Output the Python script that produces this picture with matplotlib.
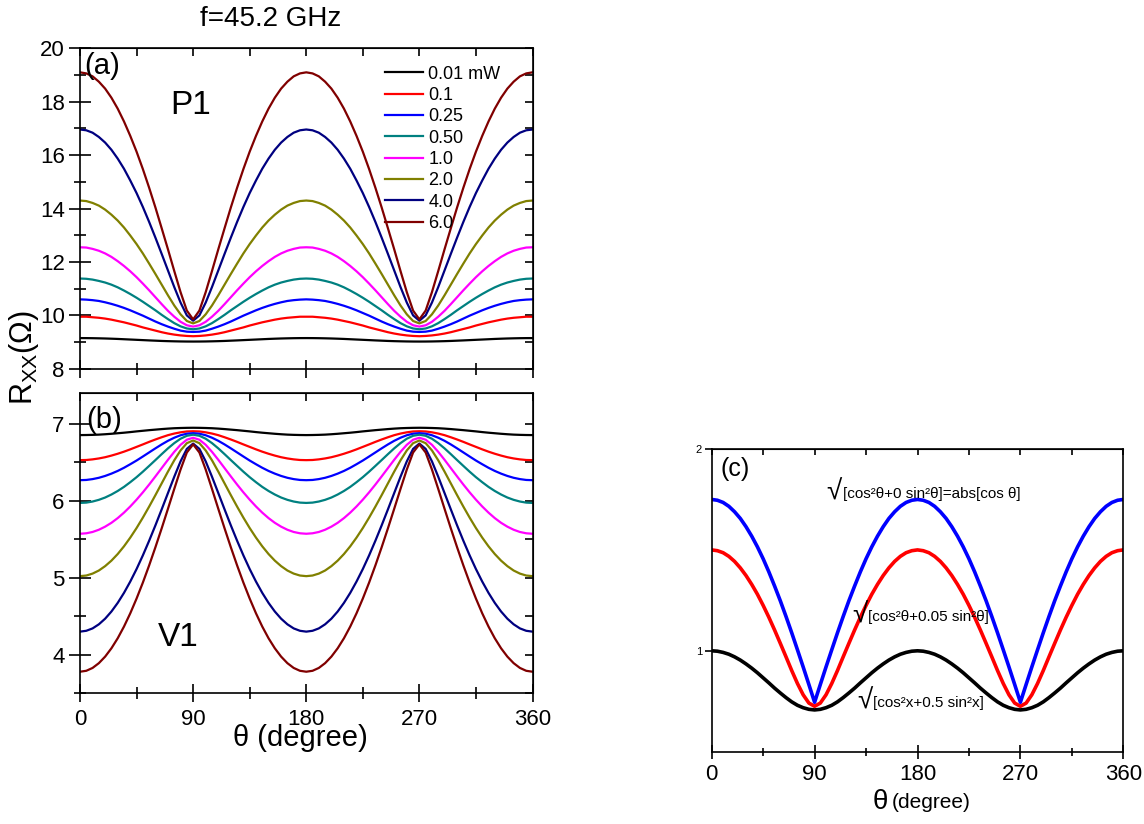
import numpy as np
import matplotlib
matplotlib.use("Agg")
import matplotlib.pyplot as plt

plt.rcParams['font.family'] = ['Liberation Sans', 'DejaVu Sans']
plt.rcParams['mathtext.fontset'] = 'custom'
plt.rcParams['mathtext.rm'] = 'Liberation Sans'
plt.rcParams['mathtext.it'] = 'Liberation Sans:italic'

# angle grid (degree), 5 degree steps
theta = np.arange(0, 361, 5)

power_labels = ['0.01 mW', '0.1', '0.25', '0.50', '1.0', '2.0', '4.0', '6.0']
power_colors = ['#000000', '#FF0000', '#0000FF', '#008080',
                '#FF00FF', '#808000', '#000080', '#800000']

# (a) P1, Rxx (Ohm)
p1_001 = [9.150, 9.149, 9.146, 9.141, 9.135, 9.127, 9.118, 9.107, 9.096, 9.085, 9.074, 9.063, 9.053, 9.043, 9.035, 9.029, 9.024, 9.021, 9.020,
          9.021, 9.024, 9.029, 9.035, 9.043, 9.053, 9.063, 9.074, 9.085, 9.096, 9.107, 9.118, 9.127, 9.135, 9.141, 9.146, 9.149, 9.150,
          9.149, 9.146, 9.141, 9.135, 9.127, 9.118, 9.107, 9.096, 9.085, 9.074, 9.063, 9.053, 9.043, 9.035, 9.029, 9.024, 9.021, 9.020,
          9.021, 9.024, 9.029, 9.035, 9.043, 9.053, 9.063, 9.074, 9.085, 9.096, 9.107, 9.118, 9.127, 9.135, 9.141, 9.146, 9.149, 9.150]
p1_01 = [9.95, 9.95, 9.93, 9.91, 9.88, 9.84, 9.79, 9.74, 9.68, 9.62, 9.55, 9.49, 9.43, 9.37, 9.32, 9.28, 9.25, 9.23, 9.22,
         9.23, 9.25, 9.28, 9.32, 9.37, 9.43, 9.49, 9.55, 9.62, 9.68, 9.74, 9.79, 9.84, 9.88, 9.91, 9.93, 9.95, 9.95,
         9.95, 9.93, 9.91, 9.88, 9.84, 9.79, 9.74, 9.68, 9.62, 9.55, 9.49, 9.43, 9.37, 9.32, 9.28, 9.25, 9.23, 9.22,
         9.23, 9.25, 9.28, 9.32, 9.37, 9.43, 9.49, 9.55, 9.62, 9.68, 9.74, 9.79, 9.84, 9.88, 9.91, 9.93, 9.95, 9.95]
p1_025 = [10.60, 10.59, 10.57, 10.54, 10.49, 10.43, 10.36, 10.28, 10.19, 10.09, 9.99, 9.88, 9.77, 9.67, 9.58, 9.50, 9.43, 9.39, 9.38,
          9.39, 9.43, 9.50, 9.58, 9.67, 9.77, 9.88, 9.99, 10.09, 10.19, 10.28, 10.36, 10.43, 10.49, 10.54, 10.57, 10.59, 10.60,
          10.59, 10.57, 10.54, 10.49, 10.43, 10.36, 10.28, 10.19, 10.09, 9.99, 9.88, 9.77, 9.67, 9.58, 9.50, 9.43, 9.39, 9.38,
          9.39, 9.43, 9.50, 9.58, 9.67, 9.77, 9.88, 9.99, 10.09, 10.19, 10.28, 10.36, 10.43, 10.49, 10.54, 10.57, 10.59, 10.60]
p1_050 = [11.38, 11.37, 11.34, 11.29, 11.23, 11.15, 11.05, 10.93, 10.80, 10.66, 10.51, 10.35, 10.19, 10.02, 9.86, 9.71, 9.59, 9.51, 9.48,
          9.51, 9.59, 9.71, 9.86, 10.02, 10.19, 10.35, 10.51, 10.66, 10.80, 10.93, 11.05, 11.15, 11.23, 11.29, 11.34, 11.37, 11.38,
          11.37, 11.34, 11.29, 11.23, 11.15, 11.05, 10.93, 10.80, 10.66, 10.51, 10.35, 10.19, 10.02, 9.86, 9.71, 9.59, 9.51, 9.48,
          9.51, 9.59, 9.71, 9.86, 10.02, 10.19, 10.35, 10.51, 10.66, 10.80, 10.93, 11.05, 11.15, 11.23, 11.29, 11.34, 11.37, 11.38]
p1_1 = [12.55, 12.54, 12.49, 12.42, 12.32, 12.19, 12.03, 11.85, 11.65, 11.43, 11.19, 10.94, 10.68, 10.42, 10.17, 9.95, 9.76, 9.63, 9.58,
        9.63, 9.76, 9.95, 10.17, 10.42, 10.68, 10.94, 11.19, 11.43, 11.65, 11.85, 12.03, 12.19, 12.32, 12.42, 12.49, 12.54, 12.55,
        12.54, 12.49, 12.42, 12.32, 12.19, 12.03, 11.85, 11.65, 11.43, 11.19, 10.94, 10.68, 10.42, 10.17, 9.95, 9.76, 9.63, 9.58,
        9.63, 9.76, 9.95, 10.17, 10.42, 10.68, 10.94, 11.19, 11.43, 11.65, 11.85, 12.03, 12.19, 12.32, 12.42, 12.49, 12.54, 12.55]
p1_2 = [14.30, 14.28, 14.21, 14.11, 13.96, 13.77, 13.55, 13.29, 12.99, 12.67, 12.32, 11.94, 11.55, 11.15, 10.75, 10.37, 10.04, 9.79, 9.70,
        9.79, 10.04, 10.37, 10.75, 11.15, 11.55, 11.94, 12.32, 12.67, 12.99, 13.29, 13.55, 13.77, 13.96, 14.11, 14.21, 14.28, 14.30,
        14.28, 14.21, 14.11, 13.96, 13.77, 13.55, 13.29, 12.99, 12.67, 12.32, 11.94, 11.55, 11.15, 10.75, 10.37, 10.04, 9.79, 9.70,
        9.79, 10.04, 10.37, 10.75, 11.15, 11.55, 11.94, 12.32, 12.67, 12.99, 13.29, 13.55, 13.77, 13.96, 14.11, 14.21, 14.28, 14.30]
p1_4 = [16.96, 16.93, 16.84, 16.68, 16.47, 16.20, 15.87, 15.49, 15.05, 14.58, 14.06, 13.50, 12.91, 12.30, 11.68, 11.06, 10.48, 10.00, 9.80,
        10.00, 10.48, 11.06, 11.68, 12.30, 12.91, 13.50, 14.06, 14.58, 15.05, 15.49, 15.87, 16.20, 16.47, 16.68, 16.84, 16.93, 16.96,
        16.93, 16.84, 16.68, 16.47, 16.20, 15.87, 15.49, 15.05, 14.58, 14.06, 13.50, 12.91, 12.30, 11.68, 11.06, 10.48, 10.00, 9.80,
        10.00, 10.48, 11.06, 11.68, 12.30, 12.91, 13.50, 14.06, 14.58, 15.05, 15.49, 15.87, 16.20, 16.47, 16.68, 16.84, 16.93, 16.96]
p1_6 = [19.10, 19.06, 18.95, 18.75, 18.49, 18.15, 17.74, 17.26, 16.72, 16.13, 15.48, 14.78, 14.04, 13.26, 12.47, 11.66, 10.87, 10.18, 9.85,
        10.18, 10.87, 11.66, 12.47, 13.26, 14.04, 14.78, 15.48, 16.13, 16.72, 17.26, 17.74, 18.15, 18.49, 18.75, 18.95, 19.06, 19.10,
        19.06, 18.95, 18.75, 18.49, 18.15, 17.74, 17.26, 16.72, 16.13, 15.48, 14.78, 14.04, 13.26, 12.47, 11.66, 10.87, 10.18, 9.85,
        10.18, 10.87, 11.66, 12.47, 13.26, 14.04, 14.78, 15.48, 16.13, 16.72, 17.26, 17.74, 18.15, 18.49, 18.75, 18.95, 19.06, 19.10]

# (b) V1, Rxx (Ohm)
v1_001 = [6.850, 6.851, 6.853, 6.856, 6.861, 6.867, 6.874, 6.881, 6.889, 6.898, 6.906, 6.914, 6.921, 6.928, 6.934, 6.939, 6.942, 6.944, 6.945,
          6.944, 6.942, 6.939, 6.934, 6.928, 6.921, 6.914, 6.906, 6.898, 6.889, 6.881, 6.874, 6.867, 6.861, 6.856, 6.853, 6.851, 6.850,
          6.851, 6.853, 6.856, 6.861, 6.867, 6.874, 6.881, 6.889, 6.898, 6.906, 6.914, 6.921, 6.928, 6.934, 6.939, 6.942, 6.944, 6.945,
          6.944, 6.942, 6.939, 6.934, 6.928, 6.921, 6.914, 6.906, 6.898, 6.889, 6.881, 6.874, 6.867, 6.861, 6.856, 6.853, 6.851, 6.850]
v1_01 = [6.525, 6.527, 6.535, 6.547, 6.563, 6.584, 6.608, 6.635, 6.665, 6.697, 6.729, 6.762, 6.793, 6.822, 6.849, 6.870, 6.886, 6.897, 6.900,
         6.897, 6.886, 6.870, 6.849, 6.822, 6.793, 6.762, 6.729, 6.697, 6.665, 6.635, 6.608, 6.584, 6.563, 6.547, 6.535, 6.527, 6.525,
         6.527, 6.535, 6.547, 6.563, 6.584, 6.608, 6.635, 6.665, 6.697, 6.729, 6.762, 6.793, 6.822, 6.849, 6.870, 6.886, 6.897, 6.900,
         6.897, 6.886, 6.870, 6.849, 6.822, 6.793, 6.762, 6.729, 6.697, 6.665, 6.635, 6.608, 6.584, 6.563, 6.547, 6.535, 6.527, 6.525]
v1_025 = [6.265, 6.268, 6.279, 6.296, 6.320, 6.350, 6.385, 6.426, 6.472, 6.520, 6.572, 6.625, 6.678, 6.729, 6.776, 6.816, 6.848, 6.868, 6.875,
          6.868, 6.848, 6.816, 6.776, 6.729, 6.678, 6.625, 6.572, 6.520, 6.472, 6.426, 6.385, 6.350, 6.320, 6.296, 6.279, 6.268, 6.265,
          6.268, 6.279, 6.296, 6.320, 6.350, 6.385, 6.426, 6.472, 6.520, 6.572, 6.625, 6.678, 6.729, 6.776, 6.816, 6.848, 6.868, 6.875,
          6.868, 6.848, 6.816, 6.776, 6.729, 6.678, 6.625, 6.572, 6.520, 6.472, 6.426, 6.385, 6.350, 6.320, 6.296, 6.279, 6.268, 6.265]
v1_050 = [5.970, 5.974, 5.988, 6.010, 6.040, 6.079, 6.125, 6.178, 6.239, 6.304, 6.375, 6.450, 6.526, 6.603, 6.678, 6.746, 6.803, 6.841, 6.855,
          6.841, 6.803, 6.746, 6.678, 6.603, 6.526, 6.450, 6.375, 6.304, 6.239, 6.178, 6.125, 6.079, 6.040, 6.010, 5.988, 5.974, 5.970,
          5.974, 5.988, 6.010, 6.040, 6.079, 6.125, 6.178, 6.239, 6.304, 6.375, 6.450, 6.526, 6.603, 6.678, 6.746, 6.803, 6.841, 6.855,
          6.841, 6.803, 6.746, 6.678, 6.603, 6.526, 6.450, 6.375, 6.304, 6.239, 6.178, 6.125, 6.079, 6.040, 6.010, 5.988, 5.974, 5.970]
v1_1 = [5.570, 5.576, 5.593, 5.622, 5.662, 5.712, 5.773, 5.844, 5.924, 6.012, 6.107, 6.208, 6.314, 6.422, 6.530, 6.633, 6.724, 6.790, 6.815,
        6.790, 6.724, 6.633, 6.530, 6.422, 6.314, 6.208, 6.107, 6.012, 5.924, 5.844, 5.773, 5.712, 5.662, 5.622, 5.593, 5.576, 5.570,
        5.576, 5.593, 5.622, 5.662, 5.712, 5.773, 5.844, 5.924, 6.012, 6.107, 6.208, 6.314, 6.422, 6.530, 6.633, 6.724, 6.790, 6.815,
        6.790, 6.724, 6.633, 6.530, 6.422, 6.314, 6.208, 6.107, 6.012, 5.924, 5.844, 5.773, 5.712, 5.662, 5.622, 5.593, 5.576, 5.570]
v1_2 = [5.020, 5.028, 5.053, 5.093, 5.150, 5.221, 5.307, 5.407, 5.520, 5.644, 5.779, 5.922, 6.071, 6.224, 6.377, 6.523, 6.651, 6.745, 6.780,
        6.745, 6.651, 6.523, 6.377, 6.224, 6.071, 5.922, 5.779, 5.644, 5.520, 5.407, 5.307, 5.221, 5.150, 5.093, 5.053, 5.028, 5.020,
        5.028, 5.053, 5.093, 5.150, 5.221, 5.307, 5.407, 5.520, 5.644, 5.779, 5.922, 6.071, 6.224, 6.377, 6.523, 6.651, 6.745, 6.780,
        6.745, 6.651, 6.523, 6.377, 6.224, 6.071, 5.922, 5.779, 5.644, 5.520, 5.407, 5.307, 5.221, 5.150, 5.093, 5.053, 5.028, 5.020]
v1_4 = [4.300, 4.311, 4.342, 4.395, 4.468, 4.561, 4.673, 4.803, 4.950, 5.112, 5.289, 5.479, 5.679, 5.887, 6.099, 6.310, 6.509, 6.671, 6.740,
        6.671, 6.509, 6.310, 6.099, 5.887, 5.679, 5.479, 5.289, 5.112, 4.950, 4.803, 4.673, 4.561, 4.468, 4.395, 4.342, 4.311, 4.300,
        4.311, 4.342, 4.395, 4.468, 4.561, 4.673, 4.803, 4.950, 5.112, 5.289, 5.479, 5.679, 5.887, 6.099, 6.310, 6.509, 6.671, 6.740,
        6.671, 6.509, 6.310, 6.099, 5.887, 5.679, 5.479, 5.289, 5.112, 4.950, 4.803, 4.673, 4.561, 4.468, 4.395, 4.342, 4.311, 4.300]
v1_6 = [3.780, 3.792, 3.829, 3.891, 3.976, 4.084, 4.214, 4.366, 4.538, 4.729, 4.936, 5.159, 5.395, 5.641, 5.895, 6.152, 6.403, 6.624, 6.730,
        6.624, 6.403, 6.152, 5.895, 5.641, 5.395, 5.159, 4.936, 4.729, 4.538, 4.366, 4.214, 4.084, 3.976, 3.891, 3.829, 3.792, 3.780,
        3.792, 3.829, 3.891, 3.976, 4.084, 4.214, 4.366, 4.538, 4.729, 4.936, 5.159, 5.395, 5.641, 5.895, 6.152, 6.403, 6.624, 6.730,
        6.624, 6.403, 6.152, 5.895, 5.641, 5.395, 5.159, 4.936, 4.729, 4.538, 4.366, 4.214, 4.084, 3.976, 3.891, 3.829, 3.792, 3.780]

# (c) model curves
c_05 = [1.000, 0.998, 0.992, 0.983, 0.970, 0.954, 0.935, 0.914, 0.891, 0.866, 0.841, 0.815, 0.791, 0.768, 0.747, 0.730, 0.718, 0.710, 0.707,
        0.710, 0.718, 0.730, 0.747, 0.768, 0.791, 0.815, 0.841, 0.866, 0.891, 0.914, 0.935, 0.954, 0.970, 0.983, 0.992, 0.998, 1.000,
        0.998, 0.992, 0.983, 0.970, 0.954, 0.935, 0.914, 0.891, 0.866, 0.841, 0.815, 0.791, 0.768, 0.747, 0.730, 0.718, 0.710, 0.707,
        0.710, 0.718, 0.730, 0.747, 0.768, 0.791, 0.815, 0.841, 0.866, 0.891, 0.914, 0.935, 0.954, 0.970, 0.983, 0.992, 0.998, 1.000]
c_005 = [1.500, 1.496, 1.486, 1.468, 1.443, 1.411, 1.373, 1.329, 1.280, 1.225, 1.166, 1.103, 1.037, 0.970, 0.902, 0.838, 0.782, 0.741, 0.725,
         0.741, 0.782, 0.838, 0.902, 0.970, 1.037, 1.103, 1.166, 1.225, 1.280, 1.329, 1.373, 1.411, 1.443, 1.468, 1.486, 1.496, 1.500,
         1.496, 1.486, 1.468, 1.443, 1.411, 1.373, 1.329, 1.280, 1.225, 1.166, 1.103, 1.037, 0.970, 0.902, 0.838, 0.782, 0.741, 0.725,
         0.741, 0.782, 0.838, 0.902, 0.970, 1.037, 1.103, 1.166, 1.225, 1.280, 1.329, 1.373, 1.411, 1.443, 1.468, 1.486, 1.496, 1.500]
c_0 = [1.750, 1.746, 1.735, 1.716, 1.689, 1.656, 1.615, 1.568, 1.515, 1.456, 1.391, 1.321, 1.248, 1.170, 1.089, 1.005, 0.920, 0.833, 0.745,
       0.833, 0.920, 1.005, 1.089, 1.170, 1.248, 1.321, 1.391, 1.456, 1.515, 1.568, 1.615, 1.656, 1.689, 1.716, 1.735, 1.746, 1.750,
       1.746, 1.735, 1.716, 1.689, 1.656, 1.615, 1.568, 1.515, 1.456, 1.391, 1.321, 1.248, 1.170, 1.089, 1.005, 0.920, 0.833, 0.745,
       0.833, 0.920, 1.005, 1.089, 1.170, 1.248, 1.321, 1.391, 1.456, 1.515, 1.568, 1.615, 1.656, 1.689, 1.716, 1.735, 1.746, 1.750]

p1_series = [p1_001, p1_01, p1_025, p1_050, p1_1, p1_2, p1_4, p1_6]
v1_series = [v1_001, v1_01, v1_025, v1_050, v1_1, v1_2, v1_4, v1_6]

W, H = 1144, 824


def rect(l, t, r, b):
    return [l / W, 1 - b / H, (r - l) / W, (b - t) / H]


def ftext(x, y, s, **kw):
    fig.text(x / W, 1 - y / H, s, **kw)


def style_x(ax, labels=True):
    ax.set_xlim(0, 360)
    ax.set_xticks([0, 90, 180, 270, 360])
    ax.set_xticks([45, 135, 225, 315], minor=True)
    ax.tick_params(axis='x', which='major', direction='inout', length=13, width=1.2,
                   labelsize=16, pad=5, labelbottom=labels)
    ax.tick_params(axis='x', which='minor', direction='inout', length=9, width=1.2)
    top = ax.secondary_xaxis('top')
    top.set_xticks([0, 90, 180, 270, 360])
    top.set_xticks([45, 135, 225, 315], minor=True)
    top.tick_params(which='both', direction='in', length=6, width=1.2, labeltop=False)


def style_y(ax, major, minor):
    ax.set_yticks(major)
    ax.set_yticks(minor, minor=True)
    ax.tick_params(axis='y', which='major', direction='inout', length=16, width=1.2,
                   labelsize=16, pad=3)
    ax.tick_params(axis='y', which='minor', direction='inout', length=9, width=1.2)
    right = ax.secondary_yaxis('right')
    right.set_yticks(major)
    right.set_yticks(minor, minor=True)
    right.tick_params(which='both', direction='in', length=6, width=1.2, labelright=False)


fig = plt.figure(figsize=(W / 100, H / 100), dpi=100)

ax_a = fig.add_axes(rect(80, 48.3, 532.5, 368.8))
ax_b = fig.add_axes(rect(80, 392.7, 532.5, 693.3))
ax_c = fig.add_axes(rect(711.7, 449, 1123.3, 751.7))

for ax in (ax_a, ax_b, ax_c):
    for sp in ax.spines.values():
        sp.set_linewidth(1.2)

# (a)
for vals, col, lab in zip(p1_series, power_colors, power_labels):
    ax_a.plot(theta, vals, color=col, lw=1.6, label=lab)
ax_a.set_ylim(8, 20)
style_x(ax_a, labels=False)
style_y(ax_a, np.arange(8, 21, 2), np.arange(9, 20, 2))
ax_a.legend(loc='upper left', bbox_to_anchor=(0.674, 0.946), frameon=False, fontsize=13,
            handlelength=2.1, handletextpad=0.3, labelspacing=0.24, borderpad=0, borderaxespad=0)

# (b)
for vals, col in zip(v1_series, power_colors):
    ax_b.plot(theta, vals, color=col, lw=1.6)
ax_b.set_ylim(3.5, 7.4)
style_x(ax_b)
style_y(ax_b, [4, 5, 6, 7], [3.5, 4.5, 5.5, 6.5])

# (c)
ax_c.plot(theta, c_05, color='black', lw=2.6)
ax_c.plot(theta, c_005, color='red', lw=2.6)
ax_c.plot(theta, c_0, color='blue', lw=2.6)
ax_c.set_xlim(0, 360)
ax_c.set_ylim(0.5, 2)
ax_c.set_xticks([0, 90, 180, 270, 360])
ax_c.set_xticks([45, 135, 225, 315], minor=True)
ax_c.tick_params(axis='x', which='major', direction='inout', length=10, width=1.2, labelsize=16, pad=4)
ax_c.tick_params(axis='x', which='minor', direction='inout', length=6, width=1.2)
ax_c.set_yticks([1, 2])
ax_c.tick_params(axis='y', direction='out', length=5, width=1.2, labelsize=8, pad=2)
top_c = ax_c.secondary_xaxis('top')
top_c.set_xticks([0, 90, 180, 270, 360])
top_c.set_xticks([45, 135, 225, 315], minor=True)
top_c.tick_params(which='both', direction='in', length=4, width=1.2, labeltop=False)

# texts
ftext(271, 19, 'f=45.2 GHz', fontsize=20, ha='center', va='center')
ftext(84, 66, '(a)', fontsize=21, ha='left', va='center')
ftext(191, 106, 'P1', fontsize=24, ha='center', va='center')
ftext(86, 420, '(b)', fontsize=21, ha='left', va='center')
ftext(178, 638, 'V1', fontsize=24, ha='center', va='center')
ftext(24, 358, r'R$_{\mathrm{XX}}$($\Omega$)', fontsize=22, ha='center', va='center', rotation=90)
ftext(300, 738, 'θ (degree)', fontsize=21, ha='center', va='center')

ftext(720, 469, '(c)', fontsize=18, ha='left', va='center')
ftext(880, 802, 'θ', fontsize=20, ha='center', va='center')
ftext(892, 803, '(degree)', fontsize=15, ha='left', va='center')

ftext(826, 500, '√', fontsize=20, ha='left', va='baseline')
ftext(843, 498, '[cos²θ+0 sin²θ]=abs[cos θ]', fontsize=11, ha='left', va='baseline')
ftext(852, 623, '√', fontsize=20, ha='left', va='baseline')
ftext(868, 621, '[cos²θ+0.05 sin²θ]', fontsize=11, ha='left', va='baseline')
ftext(857, 709, '√', fontsize=20, ha='left', va='baseline')
ftext(873, 707, '[cos²x+0.5 sin²x]', fontsize=11, ha='left', va='baseline')

fig.savefig('out.png', dpi=100)
